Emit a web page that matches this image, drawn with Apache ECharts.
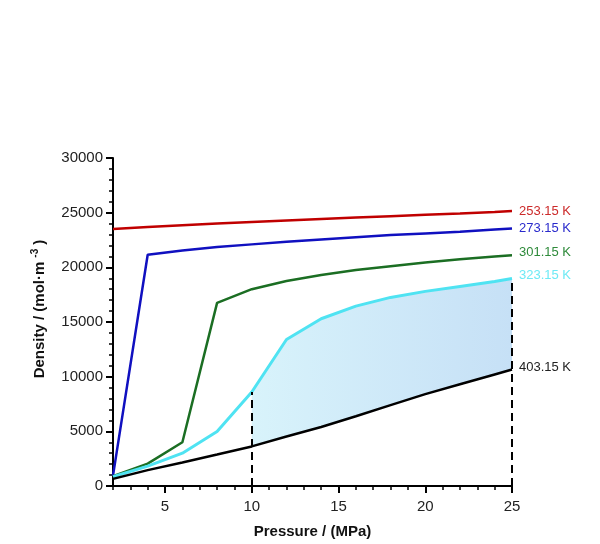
<!DOCTYPE html>
<html>
<head>
<meta charset="utf-8">
<script src="https://cdn.jsdelivr.net/npm/echarts@6/dist/echarts.min.js"></script>
<style>
  html, body { margin: 0; padding: 0; background: #fff; }
  #chart { width: 600px; height: 544px; }
</style>
</head>
<body>
<div id="chart"></div>
<script>
// pressure points (MPa)
const pressure = [2, 4, 6, 8, 10, 12, 14, 16, 18, 20, 22, 24, 25];

// density (mol/m3) per isotherm
const d253 = [23500, 23680, 23850, 24000, 24150, 24290, 24420, 24550, 24680, 24800, 24920, 25050, 25150];
const d273 = [950, 21150, 21550, 21850, 22100, 22350, 22550, 22750, 22950, 23100, 23250, 23450, 23550];
const d301 = [900, 2050, 4000, 16750, 18000, 18750, 19300, 19750, 20100, 20450, 20750, 21000, 21100];
const d323 = [850, 1820, 3000, 4990, 8600, 13400, 15300, 16450, 17250, 17800, 18250, 18700, 18970];
const d403 = [650, 1450, 2150, 2880, 3620, 4530, 5400, 6380, 7400, 8400, 9300, 10200, 10650];

const seriesNames = ['253.15 K', '273.15 K', '301.15 K', '323.15 K', '403.15 K'];
const lineColors = ['#c00000', '#1010c0', '#1b6e23', '#4fe3f2', '#000000'];
const labelColors = ['#cc2a2a', '#2a2acc', '#2e8a3a', '#6eeaf5', '#222222'];

// shaded region between 323.15 K and 403.15 K from 10 to 25 MPa
const bandFrom = 10;
const bandTo = 25;

const xMajor = [5, 10, 15, 20, 25];

const chart = echarts.init(document.getElementById('chart'));

const pairs = arr => pressure.map((p, i) => [p, arr[i]]);
const allData = [d253, d273, d301, d323, d403];

const bandIdx = pressure.map((p, i) => i).filter(i => pressure[i] >= bandFrom && pressure[i] <= bandTo);

const labelOffsets = [[0, 0], [0, 0], [0, -3], [0, -3], [0, -2]];

const series = [
    {
        // band polygon: upper edge along 323.15 K, back along 403.15 K
        type: 'custom',
        silent: true,
        z: 1,
        data: [0],
        renderItem: (params, api) => {
            const top = bandIdx.map(i => api.coord([pressure[i], d323[i]]));
            const bottom = bandIdx.slice().reverse().map(i => api.coord([pressure[i], d403[i]]));
            return {
                type: 'polygon',
                shape: { points: top.concat(bottom) },
                style: {
                    fill: new echarts.graphic.LinearGradient(0, 0, 1, 0, [
                        { offset: 0, color: '#d8f3fb' },
                        { offset: 1, color: '#c6e0f6' }
                    ])
                }
            };
        }
    }
];

allData.forEach((arr, k) => {
    series.push({
        name: seriesNames[k],
        type: 'line',
        data: pairs(arr),
        symbol: 'none',
        z: 3,
        lineStyle: { color: lineColors[k], width: k === 3 ? 3 : 2.5 },
        endLabel: {
            show: true,
            formatter: seriesNames[k],
            color: labelColors[k],
            fontFamily: 'Liberation Sans',
            fontSize: 13,
            distance: 7,
            offset: labelOffsets[k]
        }
    });
});

// dashed verticals at the band edges
const i10 = pressure.indexOf(bandFrom);
const i25 = pressure.indexOf(bandTo);
series.push({
    type: 'line', data: [], z: 4,
    markLine: {
        silent: true, symbol: 'none', label: { show: false },
        lineStyle: { color: '#000', type: [8, 5], width: 2 },
        data: [
            [{ coord: [bandFrom, 0] }, { coord: [bandFrom, d323[i10]] }],
            [{ coord: [bandTo, 0] }, { coord: [bandTo, d323[i25]] }]
        ]
    }
});

chart.setOption({
    animation: false,
    textStyle: { fontFamily: 'Liberation Sans' },
    grid: { left: 113, right: 88, top: 158, bottom: 57 },
    xAxis: [
        {
            type: 'value', min: 2, max: 25, interval: 1,
            name: 'Pressure / (MPa)', nameLocation: 'middle', nameGap: 38,
            nameTextStyle: { fontWeight: 'bold', fontSize: 15, color: '#111', fontFamily: 'Liberation Sans' },
            axisLine: { show: true, lineStyle: { color: '#000', width: 2 } },
            axisTick: { show: true, length: 4, lineStyle: { color: '#000', width: 1.5 } },
            axisLabel: {
                color: '#222', fontSize: 15, margin: 13,
                formatter: v => (xMajor.includes(v) ? String(v) : '')
            },
            splitLine: { show: false }
        },
        {
            type: 'value', min: 2, max: 25, position: 'bottom',
            axisLine: { show: false },
            axisTick: { show: true, length: 7, customValues: xMajor, lineStyle: { color: '#000', width: 2 } },
            axisLabel: { show: false, customValues: xMajor },
            splitLine: { show: false }
        }
    ],
    yAxis: {
        type: 'value', min: 0, max: 30000, interval: 5000,
        name: 'Density / (mol·m{sup|-3} )', nameLocation: 'middle', nameGap: 64,
        nameTextStyle: {
            fontWeight: 'bold', fontSize: 15, color: '#111', fontFamily: 'Liberation Sans',
            padding: [0, 0, 0, 26],
            rich: { sup: { fontSize: 10, fontWeight: 'bold', verticalAlign: 'bottom', padding: [0, 0, 9, 4], color: '#111' } }
        },
        axisLine: { show: true, lineStyle: { color: '#000', width: 2 } },
        axisTick: { show: true, length: 7, lineStyle: { color: '#000', width: 2 } },
        minorTick: { show: true, splitNumber: 5, length: 4, lineStyle: { color: '#000', width: 1.5 } },
        axisLabel: { color: '#222', fontSize: 15, margin: 10, formatter: v => String(v) },
        splitLine: { show: false },
        minorSplitLine: { show: false }
    },
    series: series
});
</script>
</body>
</html>
